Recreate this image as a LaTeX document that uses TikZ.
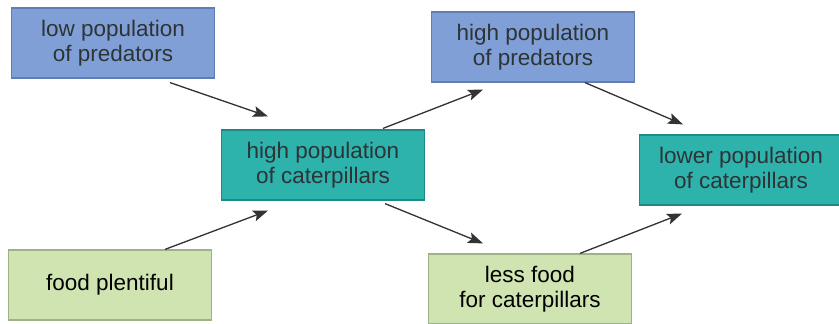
\documentclass[tikz,border=0pt]{standalone}
\usepackage{fontspec}
\setmainfont{Liberation Sans}
\usepackage{xcolor}
\definecolor{predc}{HTML}{7F9FD6}
\definecolor{predl}{HTML}{5F7FB4}
\definecolor{catc}{HTML}{2DB2AC}
\definecolor{catl}{HTML}{1E8A86}
\definecolor{foodc}{HTML}{D0E4B2}
\definecolor{foodl}{HTML}{9DB285}
\definecolor{txtc}{HTML}{2E3436}
\definecolor{arrc}{HTML}{333333}
\usetikzlibrary{arrows.meta}
\tikzset{
  >={Stealth[length=15pt,width=11pt,inset=3pt]},
  box/.style={line width=1.2pt,minimum width=203pt,minimum height=70pt,inner sep=2pt,align=center,
    font=\fontsize{22.5}{25}\selectfont,text=txtc},
  predbox/.style={box,fill=predc,draw=predl},
  catbox/.style={box,fill=catc,draw=catl},
  foodbox/.style={box,fill=foodc,draw=foodl,text=black},
  ptr/.style={->,line width=1.3pt,draw=arrc,fill=arrc},
}
\begin{document}
\begin{tikzpicture}[x=1pt,y=-1pt]
  \useasboundingbox[fill=white] (0,0) rectangle (839,324);
  % boxes
  \node[predbox] (lowpred) at (113,43) {low population\\of predators};
  \node[catbox] (highcat) at (323,165) {high population\\of caterpillars};
  \node[foodbox] (plenty) at (110,285) {food plentiful};
  \node[predbox] (highpred) at (533,47) {high population\\of predators};
  \node[foodbox] (lessfood) at (530,289) {less food\\for caterpillars};
  \node[catbox] (lowcat) at (741,170) {lower population\\of caterpillars};
  % arrows
  \draw[ptr] ([xshift=57pt,yshift=-4pt]lowpred.south) -- ([xshift=-55pt,yshift=13pt]highcat.north);
  \draw[ptr] ([xshift=55pt]plenty.north) -- ([xshift=-55pt,yshift=-10pt]highcat.south);
  \draw[ptr] ([xshift=60pt,yshift=1pt]highcat.north) -- ([xshift=-50pt,yshift=-7pt]highpred.south);
  \draw[ptr] ([xshift=62pt,yshift=-3pt]highcat.south) -- ([xshift=-47pt,yshift=10pt]lessfood.north);
  \draw[ptr] ([xshift=52pt]highpred.south) -- ([xshift=-58pt,yshift=10pt]lowcat.north);
  \draw[ptr] ([xshift=50pt]lessfood.north) -- ([xshift=-59pt,yshift=-8pt]lowcat.south);
\end{tikzpicture}
\end{document}
